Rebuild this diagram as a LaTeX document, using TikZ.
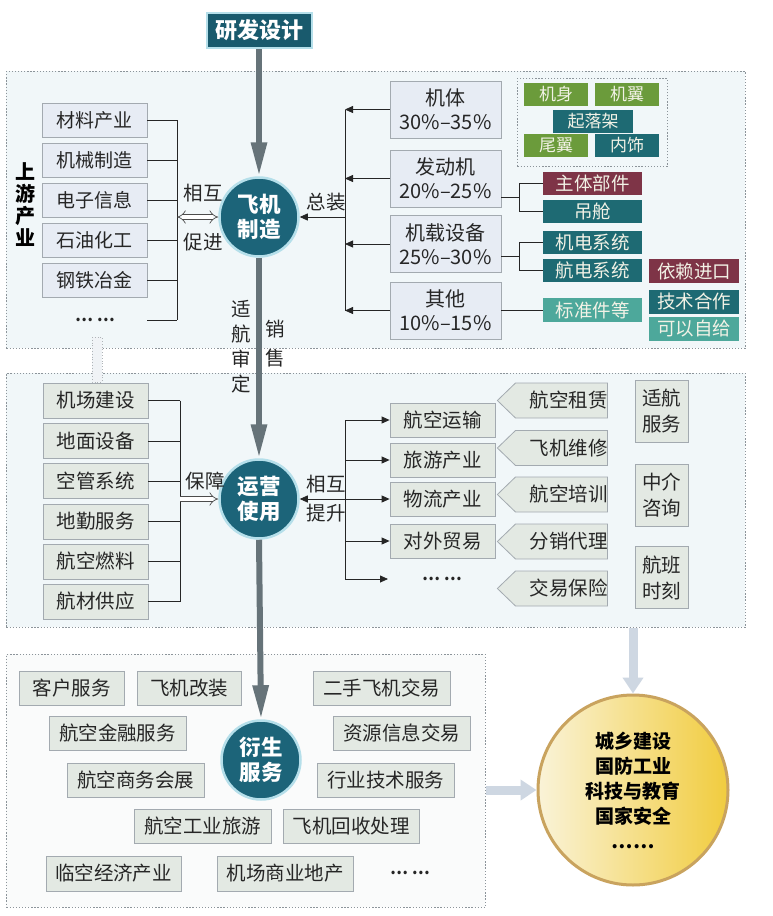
\documentclass[tikz,border=0pt]{standalone}
\usepackage{fontspec}
\setmainfont{Noto Sans CJK SC}
\usetikzlibrary{arrows.meta,shapes.symbols,shapes.arrows}
\definecolor{teal1}{HTML}{1C6479}
\definecolor{glow}{HTML}{B5DFEA}
\definecolor{regfill}{HTML}{F1F7F9}
\definecolor{regfillb}{HTML}{FAFBFB}
\definecolor{regb}{HTML}{8C949A}
\definecolor{boxA}{HTML}{E7ECF4}
\definecolor{boxB}{HTML}{E3E9E3}
\definecolor{boxb}{HTML}{A3AAB0}
\definecolor{txt}{HTML}{262626}
\definecolor{grn}{HTML}{6B9B3B}
\definecolor{dteal}{HTML}{1E6A73}
\definecolor{mar}{HTML}{7E3447}
\definecolor{lteal}{HTML}{4DA89B}
\definecolor{shaft}{HTML}{667379}
\definecolor{ghost}{HTML}{CED7E2}
\definecolor{gold}{HTML}{C9A35E}
\definecolor{yel1}{HTML}{FAF3D8}
\definecolor{yel2}{HTML}{F1CC3E}
\definecolor{ctext}{HTML}{F2F2E6}
\newcommand\fs[2]{\fontsize{#1}{#2}\selectfont}
\tikzset{
  region/.style={draw=regb, dash pattern=on 1.3pt off 1.8pt, line width=0.9pt, fill=regfill, inner sep=0pt, anchor=north west},
  rbox/.style={draw=boxb, fill=boxA, line width=0.8pt, inner sep=0pt, text=txt, font=\fs{19}{23}, align=center},
  twobox/.style={rbox, minimum width=111, minimum height=57, font=\fs{20}{24}},
  mbox/.style={rbox, fill=boxB, font=\fs{19.5}{26}},
  cbox/.style={inner sep=0pt, text=ctext, font=\fs{17}{20}, minimum height=23},
  hub/.style={circle, fill=teal1, draw=glow, line width=2.5pt, minimum size=79, inner sep=0pt, text=white, font=\fs{21.5}{25}\bfseries, align=center},
  bigarrow/.style={line width=6pt, draw=shaft, -{Triangle[length=34pt,width=15pt]}},
  thinline/.style={line width=0.8pt, draw=black!85},
  tipped/.style={thinline, -{Triangle[length=8pt,width=7pt]}},
  hollow/.style={double=white, double distance=4pt, line width=0.7pt, draw=black!70},
  ghostarrow/.style={line width=9pt, draw=ghost, -{Triangle[length=16pt,width=20pt]}},
  lab/.style={text=txt, font=\fs{19.5}{25}, inner sep=0pt, align=center},
  sig/.style={signal, signal to=west, signal pointer angle=88, draw=boxb, fill=boxB, line width=0.8pt, minimum width=105, minimum height=35, inner sep=0pt, text=txt, font=\fs{19.5}{22}},
}
\begin{document}
\begin{tikzpicture}[x=1pt,y=-1pt]
\useasboundingbox (0,0) rectangle (773,916);
\fill[white] (0,0) rectangle (773,916);

% regions
\node[region, minimum width=739, minimum height=277] (R1) at (6,71) {};
\node[region, minimum width=739, minimum height=254] (R2) at (6,373) {};
\node[region, minimum width=479, minimum height=253, fill=regfillb] (R3) at (6,654) {};
\node[region, minimum width=150, minimum height=88, fill=none] (R1b) at (517,78) {};
\draw[dotted, line width=0.8pt, draw=regb!70, fill=ghost!30] (92,337) rectangle (102,382);

% top
\node[fill=teal1!90!black, draw=glow, line width=2pt, minimum width=105, minimum height=35, inner sep=0pt, text=white, font=\fs{22}{24}\bfseries] (T) at (259,30.5) {研发设计};
\node[hub] (c1) at (259,217) {飞机\\制造};
\node[hub] (c2) at (259,499) {运营\\使用};
\node[hub] (c3) at (261,760) {衍生\\服务};
\draw[bigarrow] (T.south) -- (c1.north);
\draw[bigarrow] (c1.south) -- (c2.north);
\draw[bigarrow] (c2.south) -- (c3.north);
\node[lab] (v1) at (241,347) {适\\航\\审\\定};
\node[lab, font=\fs{19.5}{29}] (v2) at (275,344) {销\\售};

% region 1 left
\node[text=black, font=\fs{20}{22}\bfseries, align=center, inner sep=0pt] (up) at (26,205) {上\\游\\产\\业};
\node[rbox, minimum width=105, minimum height=34] (l1) at (94.5,120) {材料产业};
\node[rbox, minimum width=105, minimum height=34] (l2) at (94.5,160) {机械制造};
\node[rbox, minimum width=105, minimum height=34] (l3) at (94.5,200) {电子信息};
\node[rbox, minimum width=105, minimum height=34] (l4) at (94.5,240) {石油化工};
\node[rbox, minimum width=105, minimum height=34] (l5) at (94.5,280) {钢铁冶金};
\node[lab, font=\fs{16}{18}\bfseries] (l6) at (95,320) {… …};
\coordinate (l6e) at (147,320);
\coordinate (lb) at (177,217);
\draw[thinline] (l1.east -| lb) -- (l6e -| lb);
\foreach \n in {l1,l2,l3,l4,l5} \draw[thinline] (\n.east) -- (\n.east -| lb);
\draw[thinline] (l6e) -- (l6e -| lb);
\draw[hollow, {Implies}-{Implies}] (lb) -- (c1.west);
\node[lab] (h1) at (203,193) {相互};
\node[lab] (h2) at (203,242) {促进};

% region 1 right
\node[twobox] (r1) at (445.5,109.5) {机体\\30\%--35\%};
\node[twobox] (r2) at (445.5,178.5) {发动机\\20\%--25\%};
\node[twobox] (r3) at (445.5,244) {机载设备\\25\%--30\%};
\node[twobox] (r4) at (445.5,310.5) {其他\\10\%--15\%};
\coordinate (rb) at (345,217);
\draw[thinline] (r1.west -| rb) -- (r4.west -| rb);
\foreach \n in {r1,r2,r3,r4} \draw[tipped] (\n.west) -- (\n.west -| rb);
\draw[tipped] (rb) -- (c1.east);
\node[lab] (zz) at (326,202) {总装};

\node[cbox, fill=grn, minimum width=64] (k1) at (556,94.5) {机身};
\node[cbox, fill=grn, minimum width=64] (k2) at (627,94.5) {机翼};
\node[cbox, fill=dteal, minimum width=80] (k3) at (593,121.5) {起落架};
\node[cbox, fill=grn, minimum width=64] (k4) at (556,145.5) {尾翼};
\node[cbox, fill=dteal, minimum width=64] (k5) at (627,145.5) {内饰};

\node[cbox, fill=mar, minimum width=99, font=\fs{18.5}{20}] (e1) at (592.5,183.5) {主体部件};
\node[cbox, fill=dteal, minimum width=99, font=\fs{18.5}{20}] (e2) at (592.5,211.5) {吊舱};
\node[cbox, fill=dteal, minimum width=99, font=\fs{18.5}{20}] (e3) at (592.5,242) {机电系统};
\node[cbox, fill=dteal, minimum width=99, font=\fs{18.5}{20}] (e4) at (592.5,270.5) {航电系统};
\node[cbox, fill=lteal, minimum width=99, minimum height=24, font=\fs{18.5}{20}] (e5) at (592.5,310) {标准件等};
\node[cbox, fill=mar, minimum width=90, minimum height=24, font=\fs{18.5}{20}] (f1) at (694,271) {依赖进口};
\node[cbox, fill=dteal, minimum width=90, minimum height=24, font=\fs{18.5}{20}] (f2) at (694,301.5) {技术合作};
\node[cbox, fill=lteal, minimum width=90, minimum height=24, font=\fs{18.5}{20}] (f3) at (694,328.5) {可以自给};
\coordinate (b2) at (519,197);
\coordinate (b3) at (519,256);
\draw[thinline] (r2.east |- b2) -- (b2);
\draw[thinline] (e1.west) -| (b2);
\draw[thinline] (e2.west) -| (b2);
\draw[thinline] (r3.east |- b3) -- (b3);
\draw[thinline] (e3.west) -| (b3);
\draw[thinline] (e4.west) -| (b3);
\draw[thinline] (r4.east |- e5.west) -- (e5.west);

% region 2 left
\node[mbox, minimum width=105, minimum height=35] (m1) at (95.5,400.5) {机场建设};
\node[mbox, minimum width=105, minimum height=35] (m2) at (95.5,441) {地面设备};
\node[mbox, minimum width=105, minimum height=35] (m3) at (95.5,481) {空管系统};
\node[mbox, minimum width=105, minimum height=35] (m4) at (95.5,521.5) {地勤服务};
\node[mbox, minimum width=105, minimum height=35] (m5) at (95.5,561.5) {航空燃料};
\node[mbox, minimum width=105, minimum height=35] (m6) at (95.5,601.5) {航材供应};
\coordinate (lb2) at (180,499);
\draw[thinline] (m1.east -| lb2) -- (m6.east -| lb2);
\foreach \n in {m1,m2,m3,m4,m5,m6} \draw[thinline] (\n.east) -- (\n.east -| lb2);
\draw[hollow, -{Implies}] (lb2) -- (c2.west);
\node[lab] (bz) at (205,481) {保障};

% region 2 right
\node[mbox, minimum width=105, minimum height=34] (n1) at (442.5,420) {航空运输};
\node[mbox, minimum width=105, minimum height=34] (n2) at (442.5,460) {旅游产业};
\node[mbox, minimum width=105, minimum height=34] (n3) at (442.5,499) {物流产业};
\node[mbox, minimum width=105, minimum height=34] (n4) at (442.5,541) {对外贸易};
\node[lab, font=\fs{16}{18}\bfseries] (n5) at (442,579) {… …};
\coordinate (n5t) at (388,579);
\coordinate (rb2) at (345,499);
\draw[thinline] (n1.west -| rb2) -- (n5t -| rb2);
\foreach \n in {n1,n2,n3,n4} \draw[tipped] (\n.west -| rb2) -- (\n.west);
\draw[tipped] (n5t -| rb2) -- (n5t);
\draw[tipped] (rb2) -- (c2.east);
\node[lab] (xh1) at (326,484) {相互};
\node[lab] (xh2) at (326,513) {提升};

\node[sig] (p1) at (561.5,400.5) {\hspace{14pt}航空租赁};
\node[sig] (p2) at (561.5,448) {\hspace{14pt}飞机维修};
\node[sig] (p3) at (561.5,494.5) {\hspace{14pt}航空培训};
\node[sig] (p4) at (561.5,541.5) {\hspace{14pt}分销代理};
\node[sig] (p5) at (561.5,588.5) {\hspace{14pt}交易保险};

\node[mbox, minimum width=53, minimum height=62] (t1) at (661.5,411) {适航\\服务};
\node[mbox, minimum width=53, minimum height=62] (t2) at (661.5,495) {中介\\咨询};
\node[mbox, minimum width=53, minimum height=62] (t3) at (661.5,577.5) {航班\\时刻};

% region 3
\node[mbox, minimum width=105, minimum height=34] (s1) at (71.5,688) {客户服务};
\node[mbox, minimum width=104, minimum height=34] (s2) at (189,688) {飞机改装};
\node[mbox, minimum width=137, minimum height=34] (s3) at (381.5,688) {二手飞机交易};
\node[mbox, minimum width=137, minimum height=34] (s4) at (117.5,733) {航空金融服务};
\node[mbox, minimum width=137, minimum height=34] (s5) at (401.5,733) {资源信息交易};
\node[mbox, minimum width=137, minimum height=34] (s6) at (135.5,780) {航空商务会展};
\node[mbox, minimum width=137, minimum height=34] (s7) at (385.5,780) {行业技术服务};
\node[mbox, minimum width=137, minimum height=34] (s8) at (202.5,826) {航空工业旅游};
\node[mbox, minimum width=136, minimum height=34] (s9) at (351,826) {飞机回收处理};
\node[mbox, minimum width=135, minimum height=35] (s10) at (113.5,873.5) {临空经济产业};
\node[mbox, minimum width=136, minimum height=35] (s11) at (285,873.5) {机场商业地产};
\node[lab, font=\fs{16}{18}\bfseries] (s12) at (410,873) {… …};

% outcome circle
\node[circle, minimum size=190, draw=gold, line width=3pt, left color=yel1, right color=yel2, align=center, inner sep=0pt, text=black, font=\fs{19}{25}\bfseries] (Y) at (633,790) {城乡建设\\国防工业\\科技与教育\\国家安全\\……};
\draw[ghostarrow] (R2.south -| Y.north) -- (Y.north);
\draw[ghostarrow] (R3.east |- Y.west) -- (Y.west);
\end{tikzpicture}
\end{document}
